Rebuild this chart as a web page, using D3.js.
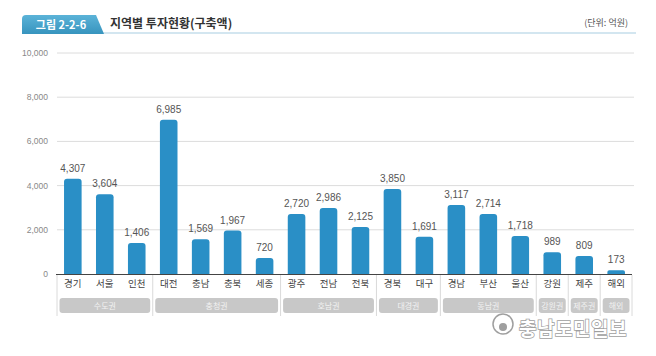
<!DOCTYPE html>
<html><head><meta charset="utf-8">
<script src="https://cdn.jsdelivr.net/npm/d3@7"></script>
<style>
body{margin:0;background:#fff;}
svg{display:block;font-family:"Noto Sans CJK KR","Noto Sans",sans-serif;}
</style></head>
<body>
<svg id="chart" width="656" height="356"></svg>
<script>
const categories = ["경기","서울","인천","대전","충남","충북","세종","광주","전남","전북","경북","대구","경남","부산","울산","강원","제주","해외"];
const values = [4307,3604,1406,6985,1569,1967,720,2720,2986,2125,3850,1691,3117,2714,1718,989,809,173];
const regions = ["수도권","수도권","수도권","충청권","충청권","충청권","충청권","호남권","호남권","호남권","대경권","대경권","동남권","동남권","동남권","강원권","제주권","해외"];
const yTicks = [0,2000,4000,6000,8000,10000];
const figLabel = "그림 2-2-6";
const title = "지역별 투자현황(구축액)";
const unit = "(단위: 억원)";

const svg = d3.select("#chart");
const x = d3.scaleBand().domain(categories).range([57,632]).paddingInner(0.45).paddingOuter(0.22);
const y = d3.scaleLinear().domain([0,10000]).range([274,53]);

// header
const defs = svg.append("defs");
const g1 = defs.append("linearGradient").attr("id","tabg").attr("x1",0).attr("y1",0).attr("x2",0).attr("y2",1);
g1.append("stop").attr("offset","0%").attr("stop-color","#5bb3d8");
g1.append("stop").attr("offset","100%").attr("stop-color","#3794be");
svg.append("line").attr("x1",22).attr("x2",636).attr("y1",33).attr("y2",33).attr("stroke","#d3e6f0").attr("stroke-width",2);
svg.append("path").attr("d","M22,34 L22,19 Q22,15 26,15 L96,15 L104,34 Z").attr("fill","url(#tabg)");
svg.append("text").attr("x",61).attr("y",28.5).attr("text-anchor","middle").attr("fill","#fff")
  .attr("font-size",11).attr("font-weight","bold").text(figLabel);
svg.append("text").attr("x",110).attr("y",28).attr("fill","#333").attr("font-size",12).attr("font-weight","bold").text(title);
svg.append("text").attr("x",628).attr("y",26).attr("text-anchor","end").attr("fill","#555").attr("font-size",9).text(unit);

// grid
svg.append("g").selectAll("line").data(yTicks.filter(d=>d>0)).join("line")
  .attr("x1",57).attr("x2",634).attr("y1",d=>y(d)).attr("y2",d=>y(d))
  .attr("stroke","#dcdcdc").attr("stroke-width",1);
svg.append("g").selectAll("text").data(yTicks).join("text")
  .attr("x",48).attr("y",d=>y(d)+3).attr("text-anchor","end").attr("fill","#888").attr("font-size",8.5)
  .attr("font-family","Liberation Sans, Arial, sans-serif")
  .text(d=>d3.format(",")(d));

// bars
const r = 3;
svg.append("g").selectAll("path").data(categories).join("path")
  .attr("fill","#2a8fc6")
  .attr("d",(c,i)=>{
    const x0 = x(c), w = x.bandwidth(), y0 = y(values[i]), yb = y(0);
    const rr = Math.min(r, (yb-y0)/2);
    return `M${x0},${yb} L${x0},${y0+rr} Q${x0},${y0} ${x0+rr},${y0} L${x0+w-rr},${y0} Q${x0+w},${y0} ${x0+w},${y0+rr} L${x0+w},${yb} Z`;
  });
svg.append("g").selectAll("text").data(categories).join("text")
  .attr("x",c=>x(c)+x.bandwidth()/2).attr("y",(c,i)=>y(values[i])-7)
  .attr("text-anchor","middle").attr("fill","#555").attr("font-size",10)
  .attr("font-family","Liberation Sans, Arial, sans-serif")
  .text((c,i)=>d3.format(",")(values[i]));

// baseline
svg.append("line").attr("x1",56).attr("x2",632).attr("y1",y(0)+0.5).attr("y2",y(0)+0.5).attr("stroke","#444").attr("stroke-width",1);

// category labels
svg.append("g").selectAll("text").data(categories).join("text")
  .attr("x",c=>x(c)+x.bandwidth()/2).attr("y",287).attr("text-anchor","middle")
  .attr("fill","#444").attr("font-size",9.5).text(c=>c);

// groups
const groups = [];
regions.forEach((rg,i)=>{
  if(!groups.length || groups[groups.length-1].name!==rg) groups.push({name:rg,first:categories[i],last:categories[i]});
  else groups[groups.length-1].last = categories[i];
});
const step = x.step();
const edge = c => x(c) - step*x.paddingInner()/2;
groups.forEach((g,i)=>{
  g.x0 = i===0 ? 57 : edge(g.first);
  g.x1 = i===groups.length-1 ? 632 : edge(g.last)+step;
});
const bounds = [groups[0].x0].concat(groups.map(g=>g.x1));
svg.append("g").selectAll("line").data(bounds).join("line")
  .attr("x1",d=>d).attr("x2",d=>d).attr("y1",y(0)+1).attr("y2",316)
  .attr("stroke","#d0d0d0").attr("stroke-width",0.8);
svg.append("g").selectAll("rect").data(groups).join("rect")
  .attr("x",g=>g.x0+2.5).attr("width",g=>g.x1-g.x0-5).attr("y",298).attr("height",15).attr("rx",3)
  .attr("fill","#c8c8c8");
svg.append("g").selectAll("text").data(groups).join("text")
  .attr("x",g=>(g.x0+g.x1)/2).attr("y",309).attr("text-anchor","middle")
  .attr("fill","#f2f2f2").attr("font-size",8).text(g=>g.name);

// watermark
const wm = svg.append("g").attr("opacity",0.95);
wm.append("circle").attr("cx",503).attr("cy",324).attr("r",10).attr("fill","#fff").attr("stroke","#9a9a9a").attr("stroke-width",1.5);
wm.append("circle").attr("cx",503).attr("cy",327).attr("r",4).attr("fill","#9a9a9a");
wm.append("text").attr("x",519).attr("y",336).attr("fill","#fff").attr("stroke","#9a9a9a").attr("stroke-width",1.5)
  .attr("paint-order","stroke").attr("font-size",19).attr("font-weight","bold").attr("letter-spacing",0.5).text("충남도민일보");
</script>
</body></html>
